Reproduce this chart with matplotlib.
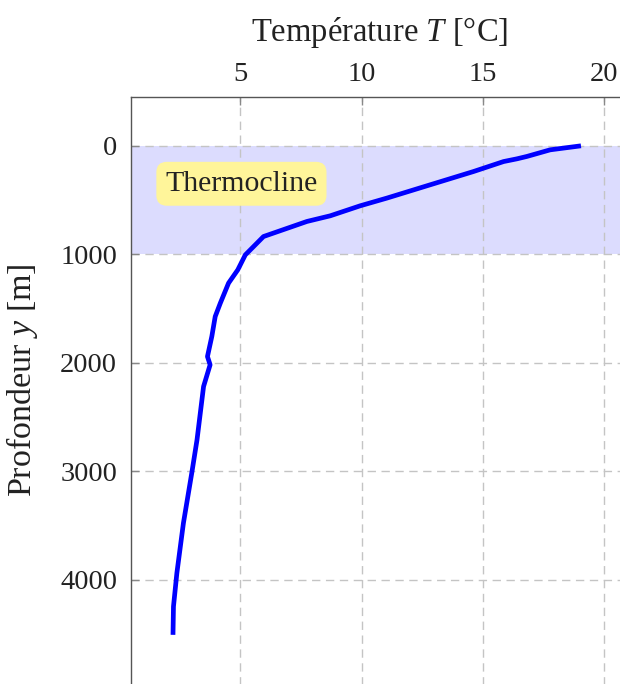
import matplotlib
matplotlib.use("Agg")
import matplotlib.pyplot as plt

# Temperature profile
temperature = [19.04, 17.77, 16.81, 16.4, 15.85, 14.61, 12.83, 11.04, 9.94, 8.71, 7.75,
               5.96, 5.69, 5.21, 4.9, 4.52, 4.18, 3.97, 3.83, 3.65, 3.76,
               3.49, 3.22, 3.01, 2.66, 2.39, 2.25, 2.23]
depth = [0, 37, 98, 120, 145, 237, 359, 482, 553, 645, 697,
         836, 897, 1005, 1143, 1265, 1450, 1573, 1757, 1942, 2018,
         2218, 2710, 3007, 3477, 3938, 4246, 4507]

x_ticks = [5, 10, 15, 20]
y_ticks = [0, 1000, 2000, 3000, 4000]
thermocline = (0, 1000)
label_text = "Thermocline"
label_pos = (5.05, 350)

plt.rcParams['font.family'] = ['Liberation Serif', 'DejaVu Serif']
plt.rcParams['mathtext.fontset'] = 'custom'
plt.rcParams['mathtext.it'] = 'Liberation Serif:italic'
plt.rcParams['mathtext.rm'] = 'Liberation Serif'

W, H = 620, 684
fig = plt.figure(figsize=(W / 100, H / 100), dpi=100)

xlim = (0.5, 21.0)
ylim = (5000, -450)
px_per_T = 24.27
px_per_m = 0.1085
left_px, top_px = 131, 97
w_px = (xlim[1] - xlim[0]) * px_per_T
h_px = (ylim[0] - ylim[1]) * px_per_m
ax = fig.add_axes([left_px / W, 1 - (top_px + h_px) / H, w_px / W, h_px / H])
ax.set_xlim(*xlim)
ax.set_ylim(*ylim)

ax.axhspan(thermocline[0], thermocline[1], color='#dcdcfe', zorder=0, lw=0)
ax.grid(True, color='#c4c4c4', linestyle=(0, (6, 4)), linewidth=1.0, zorder=1)
ax.set_axisbelow(True)

ax.plot(temperature, depth, color='#0000ff', lw=3.4, solid_capstyle='butt',
        solid_joinstyle='round', zorder=3)

ax.text(label_pos[0], label_pos[1], label_text, ha='center', va='center', fontsize=21.5,
        color='#222222', zorder=4,
        bbox=dict(boxstyle='round,pad=0.3,rounding_size=0.35', fc='#fff59a', ec='none'))

ax.xaxis.set_ticks_position('top')
ax.xaxis.set_label_position('top')
ax.set_xticks(x_ticks)
ax.set_yticks(y_ticks)
ax.tick_params(axis='both', direction='in', length=6, width=1, color='#888888',
               labelsize=20.5, labelcolor='#222222', pad=10)
ax.tick_params(axis='x', pad=7.5)

for s in ['top', 'left']:
    ax.spines[s].set_color('#555555')
    ax.spines[s].set_linewidth(1.0)
for s in ['right', 'bottom']:
    ax.spines[s].set_visible(False)

ax.set_xlabel(r'Température $T$ [°C]', fontsize=23.5, color='#222222', labelpad=15)
ax.set_ylabel(r'Profondeur $y$ [m]', fontsize=24.5, color='#222222', va='center')
ax.yaxis.set_label_coords(-0.219, 0.521)

fig.savefig('out.png', dpi=100)
